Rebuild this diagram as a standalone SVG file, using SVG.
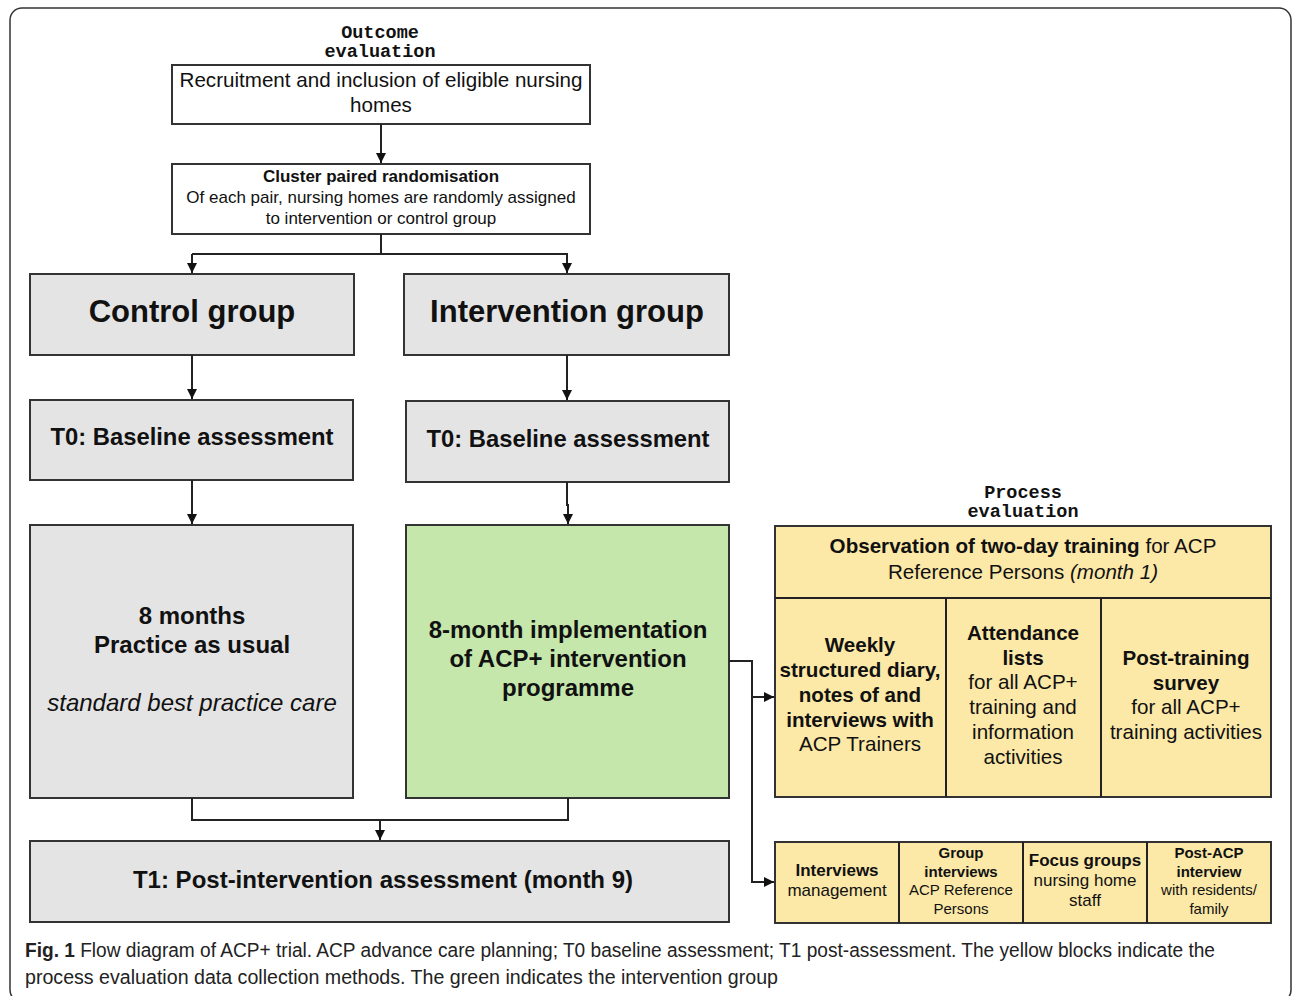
<svg xmlns="http://www.w3.org/2000/svg" width="1292" height="996" viewBox="0 0 1292 996">
<defs>
<marker id="arr" viewBox="0 0 10 10" refX="10" refY="5" markerWidth="10" markerHeight="10" markerUnits="userSpaceOnUse" orient="auto">
<path d="M0,0 L10,5 L0,10 z" fill="#111"/>
</marker>
<style>
text{font-family:"Liberation Sans",Arial,sans-serif;fill:#111;text-anchor:middle}
.mono{font-family:"Liberation Mono","DejaVu Sans Mono",monospace;font-weight:bold;font-size:18.5px}
.b{font-weight:bold}
.i{font-style:italic}
.box{stroke:#333;stroke-width:2}
.w{fill:#fff}
.g{fill:#e4e4e4}
.gr{fill:#c6e7ab}
.y{fill:#fce9a7}
.c{fill:none;stroke:#222;stroke-width:2}
.cap{text-anchor:start;font-size:20px;fill:#222}
.m{font-size:24px}
.p{font-size:20.6px}
</style>
</defs>
<rect x="10" y="8" width="1281" height="994" rx="12" fill="#fff" stroke="#333" stroke-width="1.5"/>

<g id="outcome-label">
<text class="mono" x="380" y="38">Outcome</text>
<text class="mono" x="380" y="57">evaluation</text>
</g>
<g id="recruitment">
<rect class="box w" x="172" y="65" width="418" height="59"/>
<text x="381" y="87" font-size="20.6">Recruitment and inclusion of eligible nursing</text>
<text x="381" y="112" font-size="20.6">homes</text>
</g>
<g id="randomisation">
<rect class="box w" x="172" y="164" width="418" height="70"/>
<text class="b" x="381" y="182" font-size="17">Cluster paired randomisation</text>
<text x="381" y="203" font-size="17">Of each pair, nursing homes are randomly assigned</text>
<text x="381" y="224" font-size="17">to intervention or control group</text>
</g>
<g id="control-group">
<rect class="box g" x="30" y="274" width="324" height="81"/>
<text class="b" x="192" y="322" font-size="31">Control group</text>
</g>
<g id="intervention-group">
<rect class="box g" x="404" y="274" width="325" height="81"/>
<text class="b" x="567" y="322" font-size="31">Intervention group</text>
</g>
<g id="t0-control">
<rect class="box g" x="30" y="400" width="323" height="80"/>
<text class="b" x="192" y="445" font-size="23.8">T0: Baseline assessment</text>
</g>
<g id="t0-intervention">
<rect class="box g" x="406" y="401" width="323" height="81"/>
<text class="b" x="568" y="447" font-size="23.8">T0: Baseline assessment</text>
</g>
<g id="practice-as-usual">
<rect class="box g" x="30" y="525" width="323" height="273"/>
<text class="b m" x="192" y="624">8 months</text>
<text class="b m" x="192" y="653">Practice as usual</text>
<text class="i m" x="192" y="711">standard best practice care</text>
</g>
<g id="implementation">
<rect class="box gr" x="406" y="525" width="323" height="273"/>
<text class="b m" x="568" y="638">8-month implementation</text>
<text class="b m" x="568" y="667">of ACP+ intervention</text>
<text class="b m" x="568" y="696">programme</text>
</g>
<g id="t1">
<rect class="box g" x="30" y="841" width="699" height="81"/>
<text class="b m" x="383" y="888">T1: Post-intervention assessment (month 9)</text>
</g>

<g id="process-label">
<text class="mono" x="1023" y="498">Process</text>
<text class="mono" x="1023" y="517">evaluation</text>
</g>
<g id="process-top">
<rect class="box y" x="775" y="526" width="496" height="271"/>
<line class="c" x1="775" y1="598" x2="1271" y2="598"/>
<line class="c" x1="946" y1="598" x2="946" y2="797"/>
<line class="c" x1="1101" y1="598" x2="1101" y2="797"/>
<text class="p" x="1023" y="553"><tspan class="b">Observation of two-day training</tspan> for ACP</text>
<text class="p" x="1023" y="579">Reference Persons <tspan class="i">(month 1)</tspan></text>
<text class="b p" x="860" y="652">Weekly</text>
<text class="b p" x="860" y="677">structured diary,</text>
<text class="b p" x="860" y="702">notes of and</text>
<text class="b p" x="860" y="727">interviews with</text>
<text class="p" x="860" y="751">ACP Trainers</text>
<text class="b p" x="1023" y="640">Attendance</text>
<text class="b p" x="1023" y="665">lists</text>
<text class="p" x="1023" y="689">for all ACP+</text>
<text class="p" x="1023" y="714">training and</text>
<text class="p" x="1023" y="739">information</text>
<text class="p" x="1023" y="764">activities</text>
<text class="b p" x="1186" y="665">Post-training</text>
<text class="b p" x="1186" y="690">survey</text>
<text class="p" x="1186" y="714">for all ACP+</text>
<text class="p" x="1186" y="739">training activities</text>
</g>
<g id="process-bottom">
<rect class="box y" x="775" y="842" width="496" height="81"/>
<line class="c" x1="899" y1="842" x2="899" y2="923"/>
<line class="c" x1="1023" y1="842" x2="1023" y2="923"/>
<line class="c" x1="1147" y1="842" x2="1147" y2="923"/>
<text class="b" x="837" y="876" font-size="17">Interviews</text>
<text x="837" y="896" font-size="17">management</text>
<text class="b" x="961" y="858" font-size="15">Group</text>
<text class="b" x="961" y="877" font-size="15">interviews</text>
<text x="961" y="895" font-size="15">ACP Reference</text>
<text x="961" y="914" font-size="15">Persons</text>
<text class="b" x="1085" y="866" font-size="17">Focus groups</text>
<text x="1085" y="886" font-size="17">nursing home</text>
<text x="1085" y="906" font-size="17">staff</text>
<text class="b" x="1209" y="858" font-size="15">Post-ACP</text>
<text class="b" x="1209" y="877" font-size="15">interview</text>
<text x="1209" y="895" font-size="15">with residents/</text>
<text x="1209" y="914" font-size="15">family</text>
</g>

<g id="connectors">
<line class="c" x1="381" y1="124" x2="381" y2="163" marker-end="url(#arr)"/>
<line class="c" x1="381" y1="234" x2="381" y2="254"/>
<polyline class="c" points="192,254 567,254 567,273" marker-end="url(#arr)"/>
<line class="c" x1="192" y1="254" x2="192" y2="273" marker-end="url(#arr)"/>
<line class="c" x1="192" y1="355" x2="192" y2="399" marker-end="url(#arr)"/>
<line class="c" x1="567" y1="355" x2="567" y2="400" marker-end="url(#arr)"/>
<line class="c" x1="192" y1="480" x2="192" y2="524" marker-end="url(#arr)"/>
<polyline class="c" points="567,482 567,505 568,505 568,524" marker-end="url(#arr)"/>
<polyline class="c" points="192,798 192,820 568,820 568,798"/>
<line class="c" x1="380" y1="820" x2="380" y2="840" marker-end="url(#arr)"/>
<polyline class="c" points="729,661 752,661 752,882 774,882" marker-end="url(#arr)"/>
<line class="c" x1="752" y1="697" x2="774" y2="697" marker-end="url(#arr)"/>
</g>

<g id="caption">
<text class="cap" x="25" y="957" textLength="1190" lengthAdjust="spacingAndGlyphs"><tspan font-weight="bold">Fig. 1</tspan> Flow diagram of ACP+ trial. ACP advance care planning; T0 baseline assessment; T1 post-assessment. The yellow blocks indicate the</text>
<text class="cap" x="25" y="984" textLength="753" lengthAdjust="spacingAndGlyphs">process evaluation data collection methods. The green indicates the intervention group</text>
</g>
</svg>
